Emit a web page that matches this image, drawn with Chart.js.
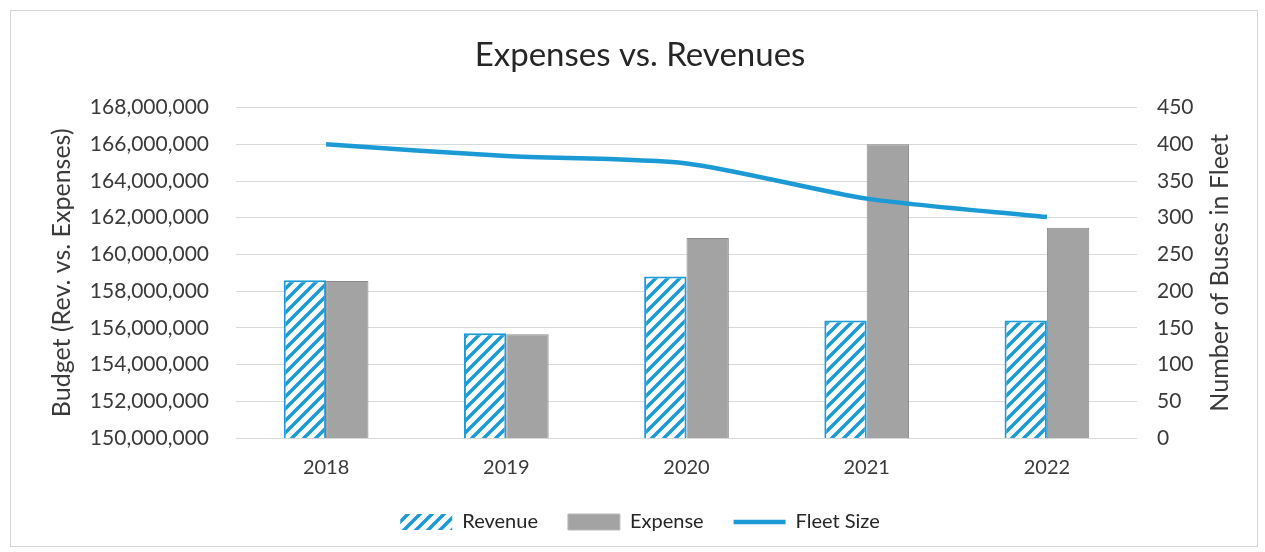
<!DOCTYPE html>
<html>
<head>
<meta charset="utf-8">
<script src="https://cdn.jsdelivr.net/npm/chart.js@4.4.1/dist/chart.umd.min.js"></script>
<style>
  html, body { margin: 0; padding: 0; background: #fff; }
  #wrap { position: absolute; left: 10px; top: 10px; width: 1248px; height: 537px; border: 1px solid #d4d4d4; box-sizing: border-box; }
  canvas { display: block; }
</style>
</head>
<body>
<div id="wrap"><canvas id="chart"></canvas></div>
<script>
const years = ["2018", "2019", "2020", "2021", "2022"];
const revenue = [158600000, 155700000, 158800000, 156400000, 156400000];
const expense = [158550000, 155650000, 160900000, 166000000, 161450000];
const fleetSize = [400, 384, 374, 326, 301];

const blue = '#1b9ad6';
const grey = '#a3a3a3';
const textColor = '#3a3a3a';
const fontFamily = 'Lato, "Open Sans", sans-serif';

function hatch(ctx) {
  const c = document.createElement('canvas');
  c.width = 12; c.height = 12;
  const g = c.getContext('2d');
  g.fillStyle = '#fff';
  g.fillRect(0, 0, 12, 12);
  g.strokeStyle = blue;
  g.lineWidth = 3.5;
  g.beginPath();
  g.moveTo(-3, 15); g.lineTo(15, -3);
  g.moveTo(-9, 9); g.lineTo(9, -9);
  g.moveTo(3, 21); g.lineTo(21, 3);
  g.stroke();
  return ctx.createPattern(c, 'repeat');
}

// right axis title, read bottom to top like the left one
const rightTitle = {
  id: 'rightTitle',
  afterDraw(chart) {
    const s = chart.scales.y1;
    const c = chart.ctx;
    c.save();
    c.translate(s.right - 17, (s.top + s.bottom) / 2);
    c.rotate(-Math.PI / 2);
    c.font = '25px ' + fontFamily;
    c.fillStyle = textColor;
    c.textAlign = 'center';
    c.textBaseline = 'middle';
    c.fillText('Number of Buses in Fleet', 0, 0);
    c.restore();
  }
};

const ctx = document.getElementById('chart').getContext('2d');
Chart.defaults.font.family = fontFamily;
Chart.defaults.color = textColor;

new Chart(ctx, {
  type: 'bar',
  data: {
    labels: years,
    datasets: [
      {
        label: 'Fleet Size',
        type: 'line',
        data: fleetSize,
        yAxisID: 'y1',
        borderColor: blue,
        backgroundColor: blue,
        borderWidth: 4.5,
        pointRadius: 0,
        tension: 0.25,
        order: 0
      },
      {
        label: 'Revenue',
        data: revenue,
        backgroundColor: hatch(ctx),
        borderColor: blue,
        borderWidth: 2,
        order: 1
      },
      {
        label: 'Expense',
        data: expense,
        backgroundColor: grey,
        borderColor: '#8a8a8a',
        borderWidth: 1,
        order: 1
      }
    ]
  },
  options: {
    responsive: true,
    maintainAspectRatio: false,
    animation: false,
    datasets: { bar: { barPercentage: 1, categoryPercentage: 0.47 } },
    layout: { padding: { left: 32, right: 20, top: 12, bottom: 4 } },
    plugins: {
      title: {
        display: true,
        text: 'Expenses vs. Revenues',
        font: { size: 33, weight: 'normal' },
        color: '#262626',
        padding: { top: 13, bottom: 32 }
      },
      legend: {
        position: 'bottom',
        labels: {
          usePointStyle: true,
          pointStyleWidth: 52,
          boxHeight: 16,
          padding: 30,
          font: { size: 20 },
          color: '#262626',
          sort: (a, b) => ['Revenue', 'Expense', 'Fleet Size'].indexOf(a.text) - ['Revenue', 'Expense', 'Fleet Size'].indexOf(b.text),
          generateLabels(chart) {
            const items = Chart.defaults.plugins.legend.labels.generateLabels(chart);
            items.forEach(it => {
              it.pointStyle = it.text === 'Fleet Size' ? 'line' : 'rect';
              if (it.text === 'Revenue') { it.lineWidth = 0; }
              if (it.text === 'Expense') { it.lineWidth = 1; it.strokeStyle = '#bbb'; }
            });
            return items;
          }
        }
      },
      tooltip: { enabled: false }
    },
    scales: {
      x: {
        grid: { display: false },
        border: { display: false },
        ticks: { font: { size: 20 }, color: textColor, padding: 10 },
        afterFit(scale) { scale.height -= 8; }
      },
      y: {
        position: 'left',
        min: 150000000,
        max: 168000000,
        grid: { color: '#d9d9d9', drawTicks: false },
        border: { display: false },
        ticks: {
          stepSize: 2000000,
          font: { size: 21 },
          color: textColor,
          padding: 27,
          callback: v => v.toLocaleString('en-US')
        },
        title: {
          display: true,
          text: 'Budget (Rev. vs. Expenses)',
          font: { size: 25 },
          color: textColor,
          padding: 4
        },
        afterFit(scale) { scale.width = 193; }
      },
      y1: {
        position: 'right',
        min: 0,
        max: 450,
        grid: { display: false, drawTicks: false },
        border: { display: false },
        ticks: {
          stepSize: 50,
          font: { size: 21 },
          color: textColor,
          padding: 20
        },
        afterFit(scale) { scale.width = 100; }
      }
    }
  },
  plugins: [rightTitle]
});
</script>
</body>
</html>
